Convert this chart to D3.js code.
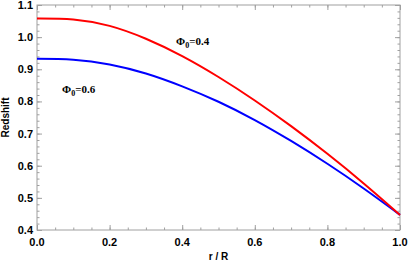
<!DOCTYPE html>
<html>
<head>
<meta charset="utf-8">
<script src="https://cdn.jsdelivr.net/npm/d3@7"></script>
<style>
  body { margin: 0; background: #fff; }
  svg { display: block; }
</style>
</head>
<body>
<div id="chart"></div>
<script>
// r/R sample points
const rValues = [0, 0.1, 0.2, 0.3, 0.4, 0.5, 0.6, 0.7, 0.8, 0.9, 1.0];
// Redshift, Phi0 = 0.4 (red)
const redshift04 = [1.058, 1.055, 1.035, 0.995, 0.941, 0.876, 0.803, 0.723, 0.637, 0.545, 0.447];
// Redshift, Phi0 = 0.6 (blue)
const redshift06 = [0.933, 0.930, 0.915, 0.887, 0.847, 0.799, 0.742, 0.677, 0.606, 0.529, 0.447];

const xTicks = [0, 0.2, 0.4, 0.6, 0.8, 1.0];
const yTicks = [0.4, 0.5, 0.6, 0.7, 0.8, 0.9, 1.0, 1.1];

const W = 409, H = 263;
const margin = {top: 5, right: 9, bottom: 33, left: 37};
const width = W - margin.left - margin.right,
      height = H - margin.top - margin.bottom;

const svg = d3.select("#chart")
  .append("svg")
    .attr("width", W)
    .attr("height", H)
  .append("g")
    .attr("transform", `translate(${margin.left},${margin.top})`);

const x = d3.scaleLinear().domain([0, 1]).range([0, width]);
const y = d3.scaleLinear().domain([0.4, 1.1]).range([height, 0]);

const frameColor = "#a0a0a0";

// minor ticks
const xMinor = d3.range(0, 1.0001, 0.05);
const yMinor = d3.range(0.4, 1.1001, 0.02);

function tickAxis(axis, g) {
  g.call(axis);
  g.select(".domain").remove();
  g.selectAll("line").attr("stroke", frameColor);
}

// bottom (inward ticks)
svg.append("g").attr("transform", `translate(0,${height})`)
  .call(g => tickAxis(d3.axisTop(x).tickValues(xMinor).tickSize(2.5).tickFormat(""), g));
svg.append("g").attr("transform", `translate(0,${height})`)
  .call(g => tickAxis(d3.axisTop(x).tickValues(xTicks).tickSize(5).tickFormat(""), g));
// top
svg.append("g")
  .call(g => tickAxis(d3.axisBottom(x).tickValues(xMinor).tickSize(2.5).tickFormat(""), g));
svg.append("g")
  .call(g => tickAxis(d3.axisBottom(x).tickValues(xTicks).tickSize(5).tickFormat(""), g));
// left
svg.append("g")
  .call(g => tickAxis(d3.axisRight(y).tickValues(yMinor).tickSize(2.5).tickFormat(""), g));
svg.append("g")
  .call(g => tickAxis(d3.axisRight(y).tickValues(yTicks).tickSize(5).tickFormat(""), g));
// right
svg.append("g").attr("transform", `translate(${width},0)`)
  .call(g => tickAxis(d3.axisLeft(y).tickValues(yMinor).tickSize(2.5).tickFormat(""), g));
svg.append("g").attr("transform", `translate(${width},0)`)
  .call(g => tickAxis(d3.axisLeft(y).tickValues(yTicks).tickSize(5).tickFormat(""), g));

// frame
svg.append("rect")
  .attr("x", 0).attr("y", 0)
  .attr("width", width).attr("height", height)
  .attr("fill", "none")
  .attr("stroke", frameColor)
  .attr("stroke-width", 1);

// tick labels
svg.append("g").selectAll("text")
  .data(xTicks)
  .join("text")
    .attr("x", d => x(d))
    .attr("y", height + 16)
    .attr("text-anchor", "middle")
    .style("font", "bold 11px 'Liberation Sans', Arial, sans-serif")
    .text(d => d3.format(".1f")(d));

svg.append("g").selectAll("text")
  .data(yTicks)
  .join("text")
    .attr("x", -4)
    .attr("y", d => y(d) + 4)
    .attr("text-anchor", "end")
    .style("font", "bold 11px 'Liberation Sans', Arial, sans-serif")
    .text(d => d3.format(".1f")(d));

// axis titles
svg.append("text")
  .attr("x", width / 2)
  .attr("y", height + 30)
  .attr("text-anchor", "middle")
  .style("font", "bold 10px 'Liberation Sans', Arial, sans-serif")
  .text("r / R");

svg.append("text")
  .attr("transform", `translate(${-28},${height / 2}) rotate(-90)`)
  .attr("text-anchor", "middle")
  .style("font", "bold 10px 'Liberation Sans', Arial, sans-serif")
  .text("Redshift");

// curves
const line = d3.line()
  .x(d => x(d[0]))
  .y(d => y(d[1]))
  .curve(d3.curveNatural);

svg.append("path")
  .datum(rValues.map((r, i) => [r, redshift06[i]]))
  .attr("fill", "none")
  .attr("stroke", "#0000ff")
  .attr("stroke-width", 2)
  .attr("d", line);

svg.append("path")
  .datum(rValues.map((r, i) => [r, redshift04[i]]))
  .attr("fill", "none")
  .attr("stroke", "#ff0000")
  .attr("stroke-width", 2)
  .attr("d", line);

// curve labels
function phiLabel(px, py, val) {
  const t = svg.append("text")
    .attr("x", px).attr("y", py)
    .style("font", "bold 11px 'Liberation Serif', 'Times New Roman', serif");
  t.append("tspan").text("\u03A6");
  t.append("tspan").attr("dy", 3).style("font-size", "8px").text("0");
  t.append("tspan").attr("dy", -3).text("=" + val);
}
phiLabel(x(0.383), y(0.975), "0.4");
phiLabel(x(0.069), y(0.827), "0.6");
</script>
</body>
</html>
